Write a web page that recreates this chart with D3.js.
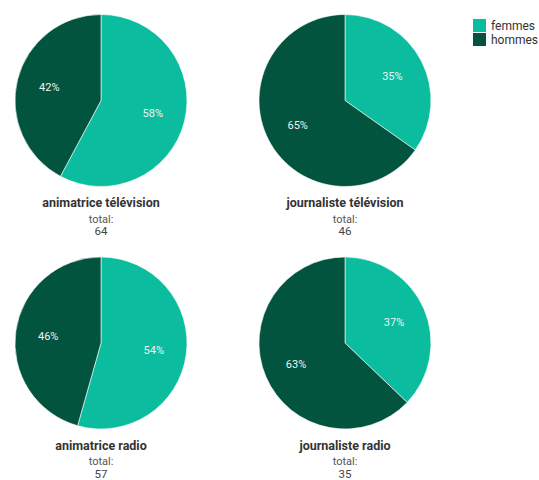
<!DOCTYPE html>
<html><head><meta charset="utf-8">
<script src="https://cdn.jsdelivr.net/npm/d3@7"></script>
<style>body{margin:0;background:#fff;font-family:Roboto,"Noto Sans",sans-serif;}</style>
</head><body>
<svg id="c" width="539" height="480"></svg>
<script>
const categories = ["animatrice télévision", "journaliste télévision", "animatrice radio", "journaliste radio"];
const series = ["femmes", "hommes"];
const femmes = [37, 16, 31, 13];
const hommes = [27, 30, 26, 22];
const totals = [64, 46, 57, 35];
const colors = ["#0bbc9e", "#02543f"];

const svg = d3.select("#c");
const cx = d3.scalePoint().domain([0,1]).range([101, 345]);
const cy = d3.scalePoint().domain([0,1]).range([100.5, 343]);
const R = 86;
const pie = d3.pie().sort(null).value(d => d.v);
const arc = d3.arc().innerRadius(0).outerRadius(R);
const labelArc = d3.arc().innerRadius(R*0.62).outerRadius(R*0.62);
const color = d3.scaleOrdinal().domain(series).range(colors);

categories.forEach((cat, i) => {
  const col = i % 2, row = Math.floor(i / 2);
  const g = svg.append("g").attr("transform", `translate(${cx(col)},${cy(row)})`);
  const data = [{k: "femmes", v: femmes[i]}, {k: "hommes", v: hommes[i]}];
  const arcs = pie(data);
  const tot = femmes[i] + hommes[i];
  g.selectAll("path").data(arcs).join("path")
    .attr("d", arc).attr("fill", d => color(d.data.k))
    .attr("stroke", "#fff").attr("stroke-width", 0.6);
  g.selectAll("text.lab").data(arcs).join("text").attr("class", "lab")
    .attr("transform", d => `translate(${labelArc.centroid(d)})`)
    .attr("text-anchor", "middle").attr("dy", "0.35em")
    .attr("font-size", 11).style("fill", "#f2f2f2")
    .text(d => Math.round(d.data.v / tot * 100) + "%");
  g.append("text").attr("y", R + 20.5).attr("text-anchor", "middle")
    .attr("font-size", 12.5).attr("font-weight", "bold").attr("fill", "#333").text(cat);
  g.append("text").attr("y", R + 36).attr("text-anchor", "middle")
    .attr("font-size", 11).attr("fill", "#555").text("total:");
  g.append("text").attr("y", R + 48.5).attr("text-anchor", "middle")
    .attr("font-size", 11.5).attr("fill", "#444").text(totals[i]);
});

const lg = svg.append("g").attr("transform", "translate(473,19)");
series.forEach((s, j) => {
  lg.append("rect").attr("x", 0).attr("y", j*14).attr("width", 13).attr("height", 13).attr("fill", colors[j]);
  lg.append("text").attr("x", 18).attr("y", j*14 + 10.5).attr("font-size", 12).attr("fill", "#333").text(s);
});
</script>
</body></html>
